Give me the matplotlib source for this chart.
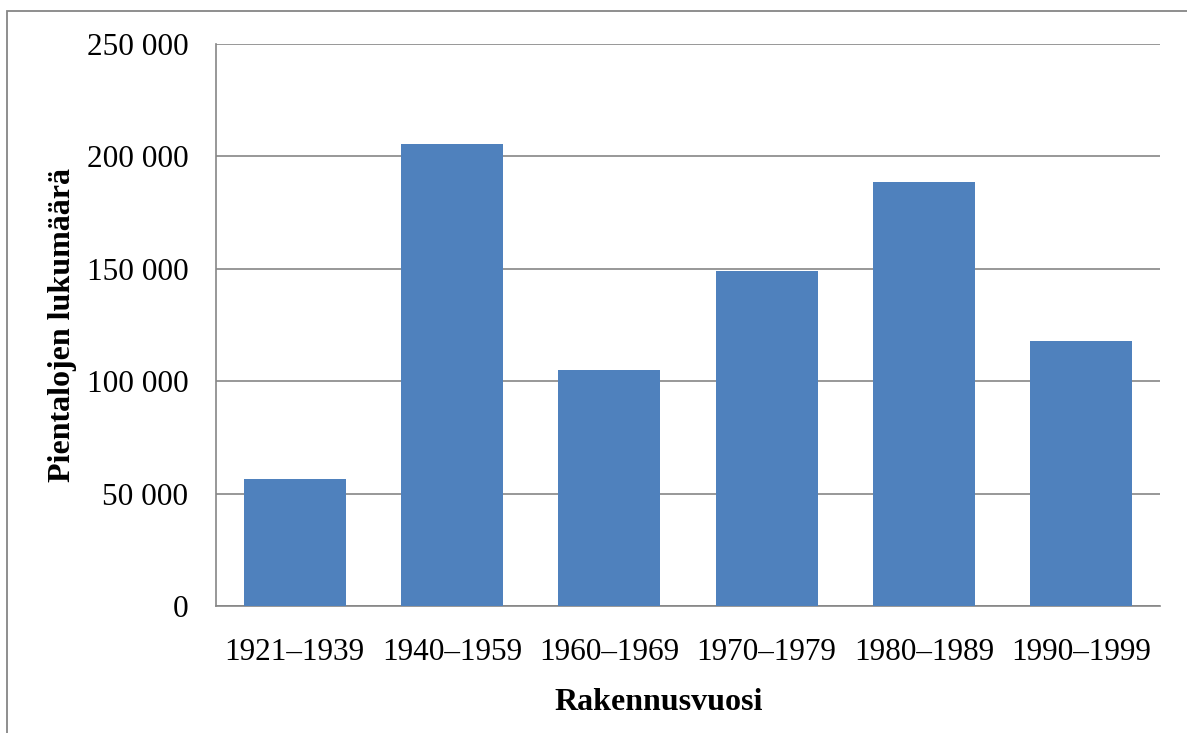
import matplotlib.pyplot as plt
from matplotlib.patches import Rectangle
from matplotlib.ticker import FuncFormatter

# building decade categories and number of detached houses
periods = ['1921–1939', '1940–1959', '1960–1969', '1970–1979', '1980–1989', '1990–1999']
houses = [56500, 205300, 105000, 148800, 188600, 117800]
y_ticks = [0, 50000, 100000, 150000, 200000, 250000]

plt.rcParams['font.family'] = ['Liberation Serif', 'DejaVu Serif']

W, H = 1187, 733
fig = plt.figure(figsize=(W / 100, H / 100), dpi=100)
ax = fig.add_axes([216 / W, 1 - 606 / H, (1160 - 216) / W, (606 - 44) / H])

x = range(len(periods))
ax.bar(x, houses, width=0.65, color='#4F81BD', zorder=3)

ax.set_xlim(-0.5, len(periods) - 0.5)
ax.set_ylim(0, 250000)
ax.set_yticks(y_ticks)
ax.yaxis.set_major_formatter(FuncFormatter(lambda v, p: f'{int(v):,}'.replace(',', ' ')))
ax.set_xticks(list(x))
ax.set_xticklabels(periods)
ax.tick_params(axis='both', length=0, labelsize=22.5, colors='black')
ax.tick_params(axis='y', pad=20)
ax.tick_params(axis='x', pad=23)

ax.grid(axis='y', color='#868686', linewidth=1.2, zorder=0)
for side in ('top', 'right'):
    ax.spines[side].set_visible(False)
for side in ('left', 'bottom'):
    ax.spines[side].set_color('#868686')
    ax.spines[side].set_linewidth(1.2)

ax.set_xlabel('Rakennusvuosi', fontsize=23, fontweight='bold')
ax.xaxis.set_label_coords(0.469, -0.171)
ax.xaxis.label.set_va('center')
ax.set_ylabel('Pientalojen lukumäärä', fontsize=23, fontweight='bold', labelpad=7)

# outer chart frame, runs off the right and bottom edges
fig.patches.append(Rectangle((7 / W, -0.05), 1.1, 1 - 11 / H + 0.05,
                             transform=fig.transFigure, fill=False,
                             edgecolor='#868686', linewidth=1.3))

fig.savefig('out.png', dpi=100)
